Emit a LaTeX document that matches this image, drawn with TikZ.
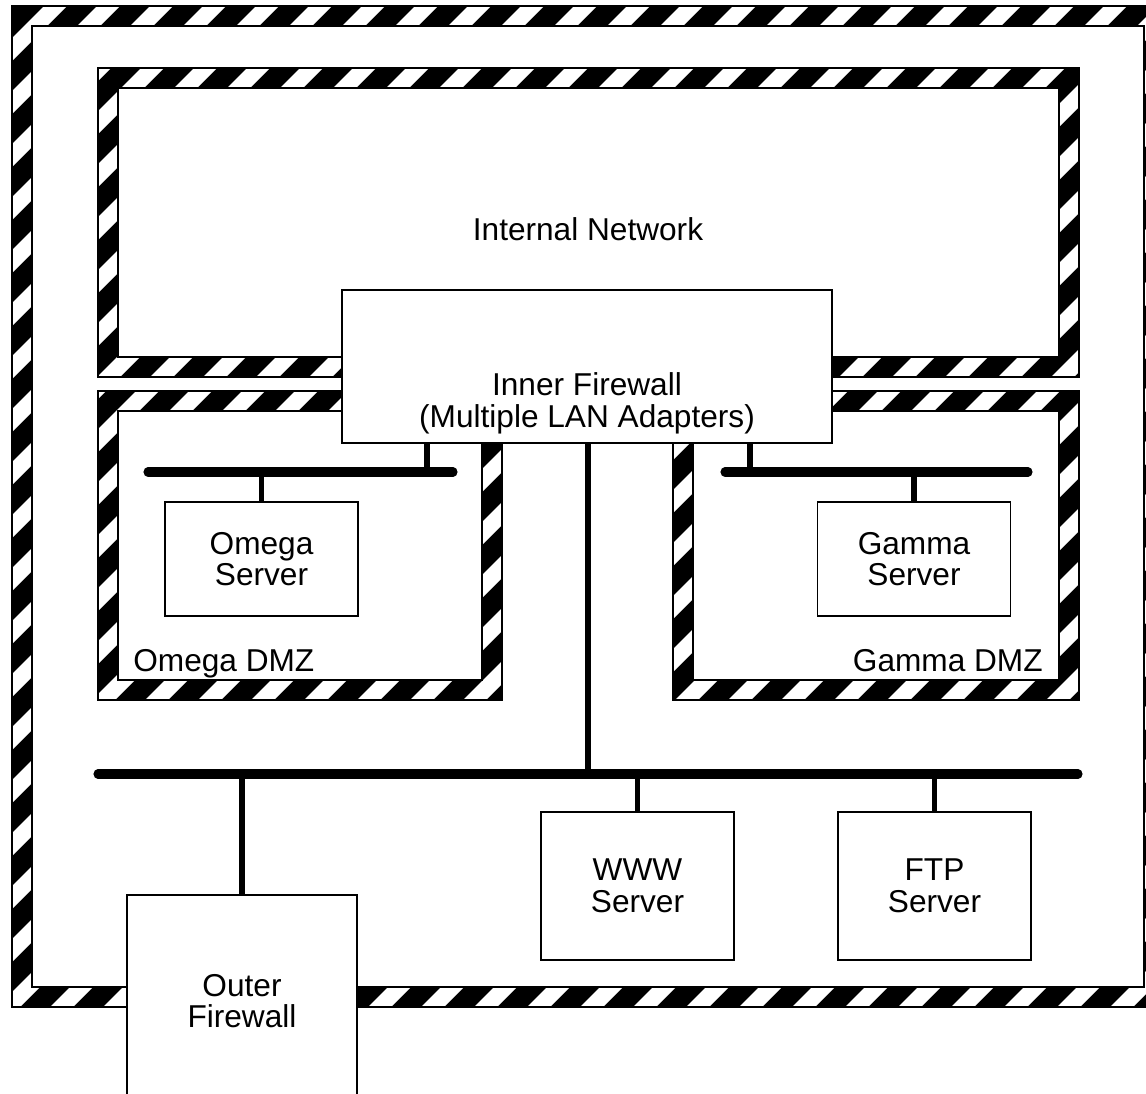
\documentclass[tikz,border=0pt]{standalone}
\usepackage{fontspec}
\setmainfont{Liberation Sans}
\usetikzlibrary{calc}

\tikzset{
    box/.style={draw, fill=white, line width=1.1pt, inner sep=0pt, align=center,
        font=\fontsize{18}{18}\selectfont},
    bus/.style={line width=5.2pt, line cap=round},
    link/.style={line width=2.9pt},
    label/.style={inner sep=0pt, font=\fontsize{18}{18}\selectfont}
}

% hatched zone border, corners in px, band 20px wide
\newcommand{\hazardframe}[4]{
    \begin{scope}
        \clip (#1,#2) rectangle (#3,#4);
        \fill[black] (#1,#2) rectangle (#3,#4);
        \foreach \hx in {0,53,...,2300}
            \fill[white] (\hx-3,0) -- (\hx+20,0) -- (\hx+20-1200,1200) -- (\hx-3-1200,1200) -- cycle;
    \end{scope}
    \fill[white] (#1+20,#2+20) rectangle (#3-20,#4-20);
    \draw[line width=0.6pt] (#1,#2) rectangle (#3,#4) (#1+20,#2+20) rectangle (#3-20,#4-20);
}

\begin{document}
\begin{tikzpicture}[x=0.02cm, y=-0.02cm]
    \useasboundingbox (0,0) rectangle (1146,1093);
    \clip (0,0) rectangle (1146,1093);

    \hazardframe{12}{6}{1164}{1007}
    \hazardframe{98}{68}{1079}{377}
    \hazardframe{98}{391}{502}{700}
    \hazardframe{673}{391}{1079}{700}

    \node[label, anchor=base] (intnet) at (588,240) {Internal Network};
    \node[label, anchor=base west] (omegadmz) at (133,671) {Omega DMZ};
    \node[label, anchor=base east] (gammadmz) at (1043,671) {Gamma DMZ};

    \node[box, minimum width=9.8cm, minimum height=3.06cm] (inner) at (587,366.5) {};
    \node[label, align=center] (innertext) at (587,403) {Inner Firewall\\(Multiple LAN Adapters)};

    % buses
    \coordinate (obusL) at (148,472);
    \coordinate (obusR) at (453,472);
    \coordinate (gbusL) at (725,472);
    \coordinate (gbusR) at (1028,472);
    \coordinate (mbusL) at (98,774);
    \coordinate (mbusR) at (1078,774);
    \draw[bus] (obusL) -- (obusR);
    \draw[bus] (gbusL) -- (gbusR);
    \draw[bus] (mbusL) -- (mbusR);

    \node[box, minimum width=3.86cm, minimum height=2.28cm] (omega) at (261.5,559) {Omega\\Server};
    \node[box, minimum width=3.86cm, minimum height=2.28cm] (gamma) at (914,559) {Gamma\\Server};
    \node[box, minimum width=3.86cm, minimum height=2.96cm] (www) at (637.5,886) {WWW\\Server};
    \node[box, minimum width=3.86cm, minimum height=2.96cm] (ftp) at (934.5,886) {FTP\\Server};
    \node[box, minimum width=4.6cm, minimum height=4.26cm] (outer) at (242,1001) {Outer\\Firewall};

    \coordinate (obusA) at (427,472);
    \coordinate (gbusA) at (750,472);
    \coordinate (mbusA) at (588,774);
    \draw[link] (inner.south -| obusA) -- (obusA);
    \draw[link] (inner.south -| gbusA) -- (gbusA);
    \draw[link] (inner.south -| mbusA) -- (mbusA);
    \draw[link] (omega.north) -- (omega.north |- obusL);
    \draw[link] (gamma.north) -- (gamma.north |- gbusL);
    \draw[link] (www.north) -- (www.north |- mbusL);
    \draw[link] (ftp.north) -- (ftp.north |- mbusL);
    \draw[link] (outer.north) -- (outer.north |- mbusL);
\end{tikzpicture}
\end{document}
